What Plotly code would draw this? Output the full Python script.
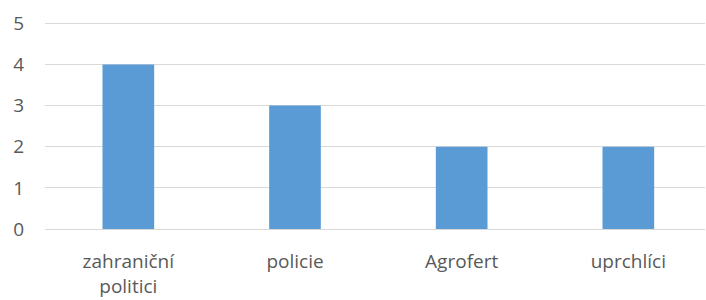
import plotly.graph_objects as go

categories = ["zahraniční<br>politici", "policie", "Agrofert", "uprchlíci"]
values = [4, 3, 2, 2]
y_ticks = [0, 1, 2, 3, 4, 5]

fig = go.Figure(go.Bar(x=categories, y=values, marker=dict(color="#5B9BD5", line=dict(width=0)),
                       hoverinfo="skip"))

fig.update_layout(
    width=706, height=300,
    margin=dict(l=45, r=1, t=20, b=71, pad=0),
    paper_bgcolor="white", plot_bgcolor="white",
    bargap=0.69,
    showlegend=False,
    font=dict(family="Open Sans", color="#595959", size=18),
)
fig.update_xaxes(range=[-0.5, 3.46], showgrid=False, showline=False, ticks="", ticklabelstandoff=19,
                 automargin=False, tickfont=dict(family="Open Sans", size=19, color="#595959"))
fig.update_yaxes(range=[0, 5.08], tickvals=y_ticks, showgrid=True, gridcolor="#D9D9D9", gridwidth=1,
                 zeroline=True, zerolinecolor="#D9D9D9", zerolinewidth=1, showline=False, ticks="",
                 ticklabelstandoff=20, automargin=False,
                 tickfont=dict(family="Open Sans", size=19, color="#595959"))

fig.write_html("out.html", config={"displayModeBar": False},
               post_script="document.body.style.margin='0';document.body.style.padding='0';")
